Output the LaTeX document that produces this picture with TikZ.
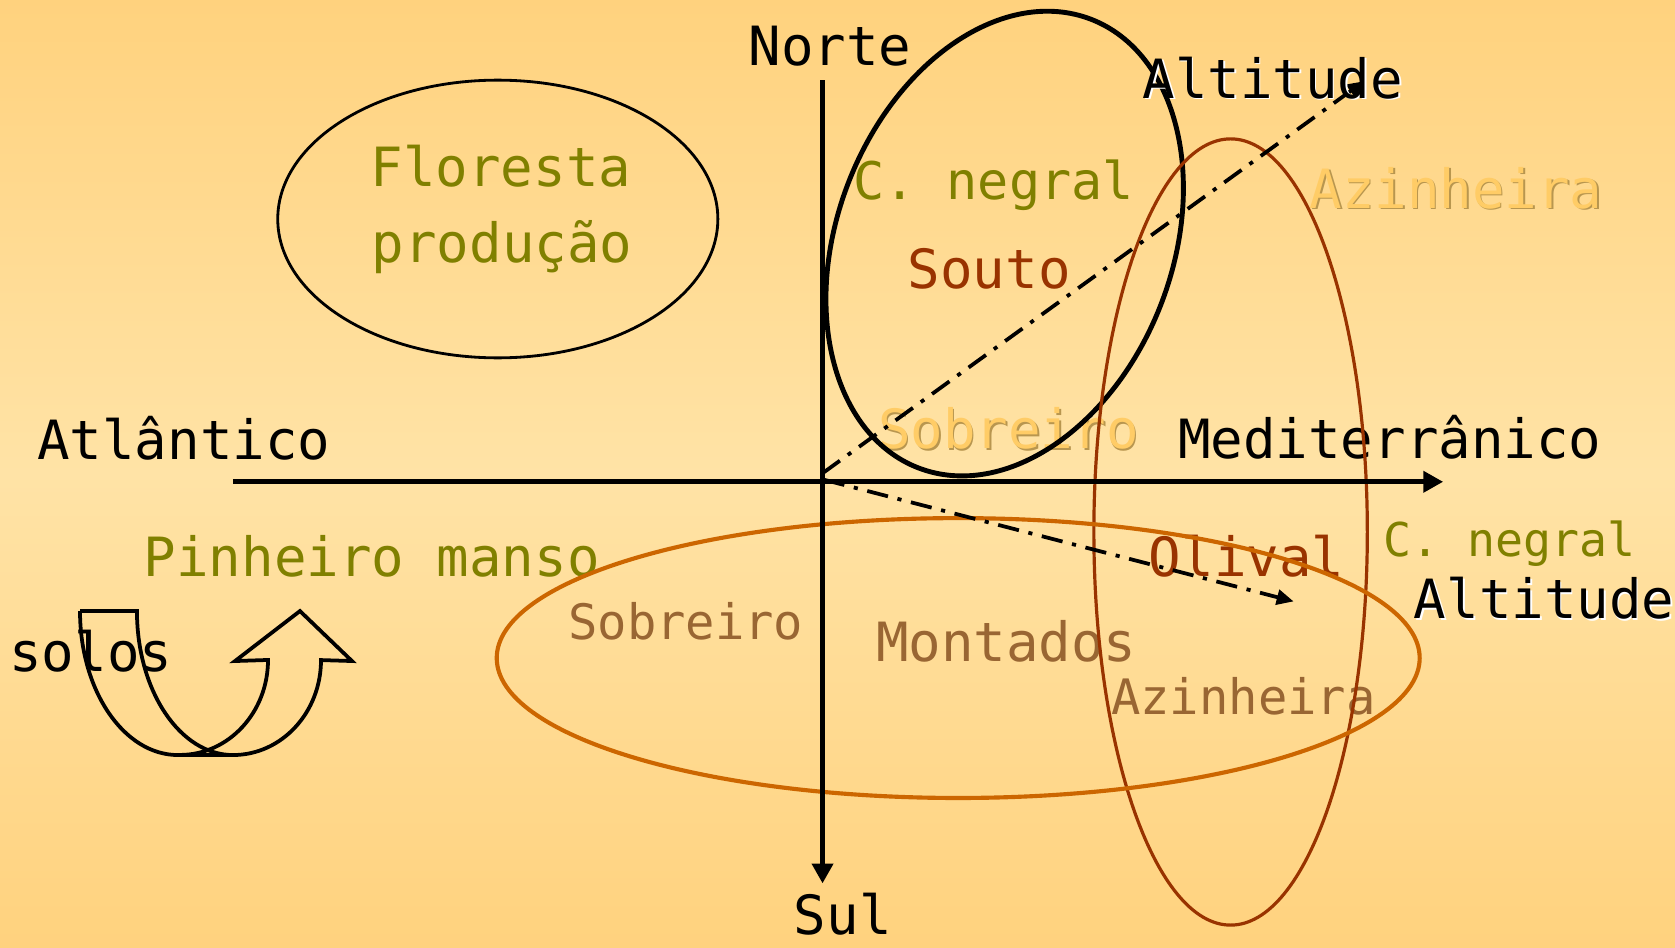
\documentclass[tikz,border=0pt]{standalone}
\usepackage{fontspec}
\usetikzlibrary{arrows.meta}
\newfontfamily\mono{DejaVu Sans Mono}
\definecolor{bgEdge}{HTML}{FFD27E}
\definecolor{bgMid}{HTML}{FFE3A6}
\definecolor{colOlive}{HTML}{808000}
\definecolor{colRust}{HTML}{993300}
\definecolor{colTan}{HTML}{996633}
\definecolor{colOrange}{HTML}{CC6600}
\definecolor{colLight}{HTML}{FFCC66}
\definecolor{colShadow}{HTML}{B8964F}
\tikzset{
  lbl/.style={font=\mono\fontsize{14.4}{17}\selectfont, inner sep=0pt, anchor=base},
  lblmid/.style={lbl, font=\mono\fontsize{13.8}{16}\selectfont},
  lblsmall/.style={lbl, font=\mono\fontsize{13}{15}\selectfont},
  lbltiny/.style={lbl, font=\mono\fontsize{12.4}{15}\selectfont},
  axisline/.style={line width=1.4pt, -{Triangle[length=5.3pt,width=5.5pt]}},
  altarrow/.style={line width=1pt, dash pattern=on 5.7pt off 2.6pt on 1.1pt off 2.6pt, -{Triangle[length=4.5pt,width=4pt]}},
  ring/.style={line width=0.75pt},
}
\begin{document}
\begin{tikzpicture}[x=0.01cm,y=-0.01cm]
\shade[top color=bgEdge, bottom color=bgEdge, middle color=bgMid] (0,0) rectangle (1568,887);
\useasboundingbox (0,0) rectangle (1568,887);

% texts under the shapes
\node[lbl, text=colOlive] (flor) at (469,175) {Floresta};
\node[lbl, text=colOlive] (prod) at (470,246) {produção};
\node[lblmid, text=colOlive] (cneg1) at (930,187) {C. negral};
\node[lbl, text=colRust] (souto) at (926,270) {Souto};
\node[lbl, text=colShadow] (sob1s) at (945.5,421.5) {Sobreiro};
\node[lbl, text=colLight] (sob1) at (944,420) {Sobreiro};
\node[lbl, text=colShadow] (azi1s) at (1364.5,196.5) {Azinheira};
\node[lbl, text=colLight] (azi1) at (1363,195) {Azinheira};
\node[lbl] (atl) at (172,430) {Atlântico};
\node[lbl] (med) at (1301,429) {Mediterrânico};
\node[lbl] (norte) at (777,61) {Norte};
\node[lbl] (sul) at (789,875) {Sul};
\node[lbl, text=colOlive] (pinh) at (348,540) {Pinheiro manso};
\node[lbltiny, text=colOlive] (cneg2) at (1413,521) {C. negral};
\node[lbl, text=colRust] (oliv) at (1167,540) {Olival};
\node[lblsmall, text=colTan] (sob2) at (642,599) {Sobreiro};
\node[lbl, text=colTan] (mont) at (942,619) {Montados};
\node[lblsmall, text=colTan] (azi2) at (1164,669) {Azinheira};
\node[lbl] (solos) at (85,629) {solos};

% ellipses
\draw[ring] (466,205) ellipse [x radius=206, y radius=130];
\draw[line width=1.3pt, rotate around={69:(940.5,228)}] (940.5,228) ellipse [x radius=225, y radius=157];
\draw[colRust, line width=0.85pt] (1152,498) ellipse [x radius=128, y radius=368];
\draw[colOrange, line width=1.1pt] (897,616) ellipse [x radius=432, y radius=131];

% axes
\coordinate (vtop) at (770,75);
\coordinate (vbot) at (770,827);
\coordinate (hleft) at (218,451);
\coordinate (hright) at (1351,451);
\draw[axisline] (vtop) -- (vbot);
\draw[axisline] (hleft) -- (hright);

% altitude arrows
\coordinate (o1) at (770,443);
\coordinate (tip1) at (1277,76);
\coordinate (o2) at (771,449);
\coordinate (tip2) at (1211,563);
\draw[altarrow] (o1) -- (tip1);
\draw[altarrow] (o2) -- (tip2);

% altitude labels with white shadow
\node[lbl, text=white] (alt1s) at (1193,93.5) {Altitude};
\node[lbl] (alt1) at (1191.5,92) {Altitude};
\node[lbl, text=white] (alt2s) at (1447,580.5) {Altitude};
\node[lbl] (alt2) at (1445.5,579) {Altitude};

% curved up arrow (solos)
\draw[line width=1pt, line join=miter]
  (74.9,572) arc[start angle=180, end angle=90, x radius=91.7, y radius=134.8]
  -- (218.1,706.8)
  arc[start angle=90, end angle=0, x radius=82.4, y radius=88.9]
  -- (329.5,618.8) -- (280.8,572) -- (220,618.8) -- (250.9,617.8)
  arc[start angle=0, end angle=90, x radius=82.4, y radius=88.9];
\draw[line width=1pt, line join=miter]
  (218.1,706.8) arc[start angle=90, end angle=180, x radius=89.9, y radius=134.8]
  -- (74.9,572);
\end{tikzpicture}
\end{document}
